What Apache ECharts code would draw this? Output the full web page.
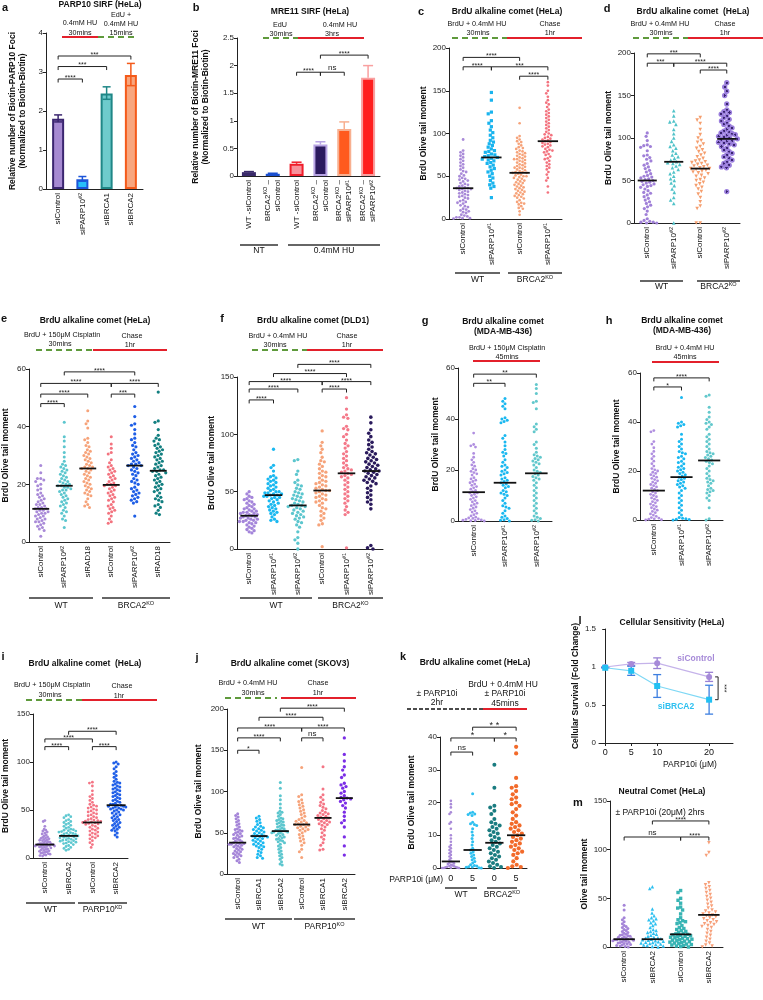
<!DOCTYPE html>
<html><head><meta charset="utf-8">
<script src="https://cdn.jsdelivr.net/npm/echarts@6/dist/echarts.min.js"></script>
<style>html,body{margin:0;padding:0;background:#fff}#c{width:763px;height:1000px}</style>
</head><body><div id="c"></div>
<script>
const FONT = '"Liberation Sans", Arial, Helvetica, sans-serif';

// ================= DATA =================
// Panel a (bar)
const aCategories = ['siControl', '{t|siPARP10}{s|#2}', 'siBRCA1', 'siBRCA2'];
const aValues = [1.8, 0.25, 2.45, 2.92];
const aErrLow = [1.72, 0.2, 2.3, 2.65];
const aErrHigh = [1.9, 0.32, 2.62, 3.22];
const aYAxis = [0, 4, 1];
const aBrackets = [[0,1,2.82,'****'],[0,2,3.14,'***'],[0,3,3.41,'***']];

// Panel b (bar)
const bCategories = ['WT -siControl', '{t|BRCA2}{s|KO}{t| –}\n{t|siControl}', 'WT -siControl', '{t|BRCA2}{s|KO}{t| –}\n{t|siControl}', '{t|BRCA2}{s|KO}{t| –}\n{t|siPARP10}{s|#1}', '{t|BRCA2}{s|KO}{t| –}\n{t|siPARP10}{s|#2}'];
const bValues = [0.07, 0.04, 0.22, 0.57, 0.85, 1.78];
const bErrHigh = [0.08, 0.05, 0.25, 0.62, 0.98, 2.0];
const bYAxis = [0, 2.5, 0.5];
const bBrackets = [[2,3,1.88,'****'],[3,4,1.88,'ns'],[3,5,2.19,'****']];

// Panel c
const cCategories = ['siControl','{t|siPARP10}{s|#1}','siControl','{t|siPARP10}{s|#1}'];
const cYAxis = [0, 200, 50];
const cWTsiControl = [93,80,78,76,74,72,70,68,66,64,62,60,58,56,55,53,51,50,48,47,46,45,44,42,41,40,39,38,37,36,36,35,35,34,33,32,31,30,29,28,27,26,25,24,22,21,20,19,18,16,15,14,12,11,10,9,8,7,5,4,3,2,2,1,1,0.5];
const cWTsiPARP10 = [148,139,125,123,115,112,108,104,101,98,95,92,90,88,86,84,82,80,79,78,76,75,74,73,72,71,70,69,68,66,65,63,61,59,57,55,53,50,48,45,42,40,38,36,25];
const cKOsiControl = [130,112,97,95,93,91,90,88,86,84,83,82,80,79,78,77,76,75,74,73,72,71,70,70,69,68,67,66,65,64,63,62,61,60,60,59,58,57,56,55,55,54,54,53,52,51,50,50,49,48,47,46,45,44,43,42,41,40,39,38,37,36,35,34,33,32,31,30,29,28,27,26,25,24,22,20,19,18,17,15,13,12,9,5];
const cKOsiPARP10 = [160,156,150,147,143,139,136,134,131,128,126,124,122,120,118,116,114,112,110,108,106,104,102,100,99,98,96,95,94,93,92,91,90,89,88,87,86,85,84,82,81,80,79,78,76,75,73,71,70,68,66,64,62,60,58,55,52,48,45,38,31];
const cMeans = [36, 72, 54, 91];
const cBrackets = [[0,2,189,'****'],[0,1,178,'****'],[1,3,178,'***'],[2,3,167,'****']];

// Panel d
const dCategories = ['siControl','{t|siPARP10}{s|#2}','siControl','{t|siPARP10}{s|#2}'];
const dYAxis = [0, 200, 50];
const dWTsiControl = [106,102,97,92,91,90,89,85,80,79,77,75,73,70,68,66,64,62,60,58,56,55,54,53,52,51,50,49,48,47,46,45,44,43,42,40,38,36,35,33,31,29,27,25,23,21,19,17,14,10,5,3,2,1,1,0,0];
const dWTsiPARP10 = [132,126,120,119,116,110,105,100,96,92,90,88,85,82,80,78,76,74,72,71,70,69,67,65,63,60,58,55,52,50,47,44,40,36,30,27,23,0];
const dKOsiControl = [124,121,117,110,104,100,97,95,93,90,88,86,84,82,80,78,76,74,73,72,71,70,69,68,67,66,65,64,64,63,62,61,60,59,58,56,55,53,51,50,48,46,44,42,40,37,34,30,25,20,17,0,0];
const dKOsiPARP10 = [165,160,155,150,140,133,131,130,128,126,124,122,120,118,116,114,112,110,108,107,106,105,104,103,102,101,100,99,98,97,96,95,94,93,92,90,88,86,84,82,80,78,76,74,72,70,68,66,65,37];
const dMeans = [50, 72, 64, 99];
const dBrackets = [[0,2,199,'***'],[0,1,188,'***'],[1,3,188,'****'],[2,3,180,'****']];

// Panel e
const eCategories = ['siControl','{t|siPARP10}{s|#2}','siRAD18','siControl','{t|siPARP10}{s|#2}','siRAD18'];
const eYAxis = [0, 60, 20];
const eWTsiControl = [26.5,24,22,22,21.5,21,20,19.5,18.5,18,17,16.5,16,15.5,15,14.5,14,13.5,13,13,12.5,12,12,11.5,11.5,11,11,10.5,10.5,10,10,9.5,9,9,8.5,8,8,7.5,7,7,6.5,6,5.5,5,4.5,4,2];
const eWTsiPARP10 = [41.5,36.5,35,33,31,29.5,28,27,26.5,26,25.5,25,24.5,24,23.5,23,22.5,22,21.5,21,21,20.5,20,20,19.5,19.5,19,19,18.5,18,18,17.5,17,16.5,16,15.5,15,14.5,14,13.5,13,12.5,12,11,10.5,10,9,8,7.5,5];
const eWTsiRAD18 = [45.5,42,41,39.5,36,35.5,34.5,33.5,33,32,31.5,31,30.5,30,29.5,29,28.5,28,27.5,27,26.5,26,26,25.5,25.5,25,24.5,24,23.5,23,22.5,22,21.5,21,20.5,20,19.5,19,18.5,18,17.5,17,16.5,16,15,14,13,12.5,12];
const eKOsiControl = [36.5,34,32.5,31,30.5,28.5,27.5,26.5,26,25.5,25,24.5,24,23.5,23,22.5,22,21.5,21,20.5,20,20,19.5,19.5,19,18.5,18,17.5,17,16.5,16,15.5,15,14.5,14,13,12.5,12,11.5,11,10.5,10,9,8,7,6.5];
const eKOsiPARP10 = [47,43.5,41,40.5,39,37.5,36,35.5,34.5,33.5,33,32,31,30.5,30,29.5,29,28.5,28,27.5,27,27,26.5,26.5,26,25.5,25,24.5,24,23.5,23,22,21.5,21,20.5,20,19,18.5,18,17.5,17,16.5,16,15.5,15,14.5,14,13.5,9];
const eKOsiRAD18 = [52,42,41.5,39,37,36,35.5,35,34,33.5,33,32.5,32,31.5,31,30.5,30,29.5,29,28.5,28,27.5,27,26.5,26,25.5,25,25,24.5,24.5,24,23.5,23,22.5,22,21.5,21,20.5,20,19.5,19,18.5,18,17.5,17,16,15.5,15,14.5,14,13,12.5,12,11,10,9.5];
const eMeans = [11.5, 19.5, 25.5, 19.8, 26.5, 24.7];
const eBrackets = [[1,4,59,'****'],[0,3,55,'****'],[3,5,55,'****'],[0,2,51.3,'****'],[3,4,51.3,'***'],[0,1,48,'****']];

// Panel f
const fCategories = ['siControl','{t|siPARP10}{s|#1}','{t|siPARP10}{s|#2}','siControl','{t|siPARP10}{s|#1}','{t|siPARP10}{s|#2}'];
const fYAxis = [0, 150, 50];
const fWTsiControl = [50,48,46,45,44,43,42,41,40,39,38,37,36,35,35,34,33,33,32,32,31,31,30,30,29,29,28,28,27,27,26,26,25,25,24,24,23,23,22,21,20,19,18,17,16,15,14];
const fWTsiPARP10a = [87,73,71,68,64,63,62,61,60,59,58,57,56,55,54,53,52,51,50,50,49,49,48,48,47,47,46,46,45,45,44,43,42,41,40,39,38,37,36,35,34,33,32,31,30,28,26,25,24];
const fWTsiPARP10b = [78,77,68,65,60,58,56,55,53,52,50,49,48,47,46,45,44,43,42,41,40,39,38,38,37,37,36,35,34,33,32,31,30,29,28,27,26,24,23,21,19,15,10,8,5,0];
const fKOsiControl = [103,93,90,87,84,80,77,76,74,72,70,68,67,66,64,63,62,60,59,58,57,56,55,54,53,52,51,51,50,49,48,47,46,45,44,43,42,41,40,38,36,35,33,31,29,27,25,22,21,2];
const fKOsiPARP10a = [132,122,117,115,114,107,105,104,100,98,95,92,90,88,85,83,81,79,77,75,73,71,70,69,68,67,66,65,64,63,62,60,58,56,54,52,50,48,46,44,42,40,37,34,32,30,1];
const fKOsiPARP10b = [115,110,104,101,98,95,93,91,89,87,85,84,83,82,80,79,78,77,76,75,74,73,72,71,70,69,68,68,67,66,65,64,63,62,61,60,59,58,57,55,53,51,49,47,45,43,41,39,35,3,1,0];
const fMeans = [29, 47, 38, 51, 66, 68];
const fBrackets = [[2,5,161,'****'],[1,4,153,'****'],[0,3,146,'****'],[3,5,146,'****'],[0,2,139.5,'****'],[3,4,139.5,'****'],[0,1,130,'****']];

// Panel g
const gCategories = ['siControl','{t|siPARP10}{s|#1}','{t|siPARP10}{s|#2}'];
const gYAxis = [0, 60, 20];
const gSiControl = [34.5,30,29.5,29,26.5,25,24,23,22,21.5,20.5,20,19.5,19,18.5,18,17,16.5,16,15.5,15,14.5,14,13.5,13,12.5,12,11.5,11,11,10.5,10,9.5,9,8.5,8,7.5,7,6.5,6,5.5,5,4.5,4,3.5,3,2.5,2,1.5,1.2,1,0.8,0.6,0.4,0.3,0.2,0.1,0];
const gSiPARP10a = [48,47,46,45,44,40.5,40,39.5,39,38.5,33.5,32.5,31,29.5,28,27,26.5,25.5,24,23,22,21.5,21,20,19.5,19,18.5,18,17,16.5,16,15.5,15,14.5,14,13.5,13,12,11.5,11,10.5,10,9,8,7,6,5.5,5,4,3,2,1.5,1,0.5,0.3,0];
const gSiPARP10b = [53.5,52,50,47,46.5,44,38,37,36,35,31,30,28.5,27,26,25.5,25,24.5,24,23.5,23,22.5,22,21,20,19.5,19,18.5,18,17.5,17,16.5,16,15,14,13,12,11,10,9,8,7,6,5,4,3,2,1.5,1,0.5,0.3,0];
const gMeans = [11.3, 15, 18.7];
const gBrackets = [[0,2,57.6,'**'],[0,1,54,'**']];

// Panel h
const hCategories = ['siControl','{t|siPARP10}{s|#1}','{t|siPARP10}{s|#2}'];
const hYAxis = [0, 60, 20];
const hSiControl = [36.5,36,32,31,29.5,28,27,26,25,24,23,22,21,20.5,20,19.5,19,18.5,18,17.5,17,16.5,16,15.5,15,14.5,14,13.5,13,12.5,12,11.5,11,10.5,10,9.5,9,8.5,8,7.5,7,6.5,6,5.5,5,4.5,4,3.5,3,2.5,2,1.5,1,0.8,0.5,0.3,0.1,0];
const hSiPARP10a = [50,40,39.5,39,38.5,38,35,33,32,31,30,29,28,27.5,27,26,25.5,25,24,23.5,23,22,21.5,21,20.5,20,19.5,19,18.5,18,17.5,17,16.5,16,15.5,15,14.5,14,13.5,13,12,11,10,9,8,7,6,5,4,3,2,1,0.7,0.5,0.3,0.2,0];
const hSiPARP10b = [51,50.5,46,44,42,41,40,39.5,39,38,37,35,34,33,32,31,30,29,28,27.5,27,26.5,26,25.5,25,24.5,24,23.5,23,22,21,20,19,18,17,16.5,16,15.5,15,14,13,12.5,12,11.5,11,10,9,8,5,0.5,0];
const hMeans = [12, 17.5, 24.3];
const hBrackets = [[0,2,58,'****'],[0,1,54.3,'*']];

// Panel i
const iCategories = ['siControl','siBRCA2','siControl','siBRCA2'];
const iYAxis = [0, 150, 50];
const iWTsiControl = [39,38,33,30,29,28,27,26,25,24,23,22,21.5,21,20.5,20,19.5,19,18.5,18,17.5,17,16.5,16,15.5,15,15,14.5,14.5,14,14,13.5,13.5,13,13,12.5,12.5,12,12,11.5,11,10.5,10,9.5,9,8.5,8,7.5,7,6.5,6,5.5,5,4.5,4,3.5,3,2.5,2];
const iWTsiBRCA2 = [45,44,43,42,40,39,38,37,36,35,34,33,32,31,30,29.5,29,28.5,28,27.5,27,26.5,26,25.5,25,24.5,24,23.5,23,23,22.5,22,21.5,21,20.5,20,19.5,19,18.5,18,17.5,17,16.5,16,15.5,15,14,13,12,11,10,9,8];
const iKDsiControl = [79,78,75,70,66,64,62,60,58,56,55,54,53,52,51,50,49,48,47,46,45,44,43,42,41,40,39.5,39,38.5,38,37.5,37,36.5,36,35.5,35,34,33,32,31,30,29,28,27,26,25,24,23,22,21,20,18,16,14,11];
const iKDsiBRCA2 = [100,99,98,95,93,90,88,86,84,82,80,79,78,77,76,75,74,73,72,71,70,69,68,67,66,65,64,63,62,61,60,59,58,57,56,56,55,55,54,54,53,53,52,52,51,51,50,50,49,48,47,46,45,44,43,42,41,40,39,38,37,36,35,34,33,32,31,30,29,28,26,24,22];
const iMeans = [14, 23, 37, 55];
const iBrackets = [[1,3,132,'****'],[0,2,124,'****'],[0,1,116,'****'],[2,3,116,'****']];

// Panel j
const jCategories = ['siControl','siBRCA1','siBRCA2','siControl','siBRCA1','siBRCA2'];
const jYAxis = [0, 200, 50];
const jWTsiControl = [73,71,69,67,65,63,61,59,57,55,54,53,52,51,50,49,48,47,46,45,44,43,42,41,40,39,38,38,37,37,36,36,35,35,34,33,32,31,30,29,28,27,26,25,24,23,22,21,20,18,16,14];
const jWTsiBRCA1 = [70,68,66,64,62,60,58,57,56,55,54,53,52,51,50,49,48,47,46,46,45,45,44,43,42,41,40,39,38,37,36,35,34,33,32,30,28,26,24,22,20,19];
const jWTsiBRCA2 = [111,104,95,90,85,80,76,75,74,72,70,68,67,66,65,64,63,62,61,60,59,58,57,56,55,54,53,53,52,52,51,51,50,50,49,48,47,46,45,44,43,42,41,40,39,38,36,34,32,30,28,26,24,22,20,18,15,12,11];
const jKOsiControl = [129,96,94,90,88,86,84,82,80,78,76,74,72,70,68,66,65,64,63,62,61,60,60,59,58,57,56,55,54,53,52,50,48,46,44,42,40,38,35,30,27,20];
const jKOsiBRCA1 = [130,103,96,93,90,87,85,83,81,79,77,75,74,73,72,71,70,69,68,67,66,65,64,63,62,61,60,59,57,55,53,50,47,45,42,38,35,30,29];
const jKOsiBRCA2 = [165,145,137,130,126,120,117,110,108,106,104,100,98,95,93,92,91,90,88,86,83,80,75,70,65,62,57,45,34,23];
const jMeans = [38, 46, 52, 60, 68, 92];
const jBrackets = [[2,5,201,'****'],[1,4,190,'****'],[0,3,177,'****'],[3,5,177,'****'],[0,2,165,'****'],[3,4,165,'ns'],[0,1,150,'*']];

// Panel k
const kCategories = ['0','5','0','5'];
const kYAxis = [0, 40, 10];
const kWT0 = [20.5,19.5,18.5,17,16.5,14,13.5,12,10,9,8,7,6.5,6,5.5,5,4.5,4,3.5,3,2.5,2,1.8,1.6,1.4,1.2,1,0.8,0.6,0.5,0.4,0.3,0.2,0.1,0.1,0,0,0];
const kWT5 = [22.7,17,16.8,16.5,16.3,16,14,13.5,13.3,13,12,11,10,9,8,7,6,5.5,5,4.5,4,3.5,3,2.5,2,1.5,1,0.8,0.6,0.4,0.3,0.2,0.1,0];
const kKO0 = [31.5,24.5,19,18.5,17.5,16.5,15,14,13.5,13,12.5,12,11.5,11,10.5,10,9.5,9,8.5,8,7.5,7,6.5,6,5.5,5,4.5,4,3.5,3,2.5,2,1.5,1,0.5,0.3,0];
const kKO5 = [37,35,27.5,25,24.5,23.5,22.5,21.5,21,20,19.5,19,18,17,16,15,14,13.5,13,12.5,12,11.5,11,10.5,10,9.5,9,8.5,8,7.5,7,6.5,6,5.5,5,4.5,4,3,2,1,0.5,0.3,0];
const kMeans = [2, 5.5, 7.7, 10];
const kBrackets = [[1,3,43,'* *'],[0,2,39.7,'*'],[2,3,39.7,'*'],[0,1,35.4,'ns']];

// Panel l
const lDoses = [0, 5, 10, 20];
const lControl = [1.0, 1.04, 1.05, 0.87];
const lControlErr = [0, 0.02, 0.07, 0.06];
const lBRCA2 = [0.99, 0.95, 0.75, 0.57];
const lBRCA2Err = [0, 0.06, 0.15, 0.19];
const lXTicks = [0, 5, 10, 20];
const lYAxis = [0, 1.5, 0.5];

// Panel m
const mCategories = ['siControl','siBRCA2','siControl','siBRCA2'];
const mYAxis = [0, 150, 50];
const mNTsiControl = [43,38,30,28,26,24,22,21,20,19,18,17,16,15,14,13,12.5,12,11.5,11,10.5,10,9.5,9,8.5,8,8,7.5,7.5,7,7,6.5,6,5.5,5,4.5,4,3.5,3,2.5,2,1.5,1,0.5,0];
const mNTsiBRCA2 = [62,60,39,35,32,30,29,28,27,25,24,22,20,18,17,16,15,14,13,12,11,10,9.5,9,8.5,8,7.5,7,6.5,6,5.5,5,4.5,4,3.5,3,2.5,2,1.5,1,0.5,0];
const mPisiControl = [58,56,50,48,45,41,40,38,34,30,28,27,26,25,24,22,20,19,18,17,16,15,14,13.5,13,12.5,12,11.5,11,10.5,10,9.5,9,8.5,8,7.5,7,6.5,6,5.5,5,4.5,4,3.5,3,2.5,2,1.5,1,0.5,0];
const mPisiBRCA2 = [107,97,94,66,64,62,60,58,56,54,52,50,48,46,44,42,40,38,37,36,35,34,33,32,31,30,29,28,27,26,25,24,23,22,21,20,18,16,14,12,10,8,6,4,2,1,0];
const mMeans = [8, 8, 13, 33];
const mBrackets = [[1,3,129.5,'****'],[0,2,113,'ns'],[2,3,113,'****']];

// ================= LAYOUT / STYLE =================
const L = {
  a:{left:46, top:33, width:97, height:156},
  b:{left:237, top:38, width:143, height:138},
  c:{left:449, top:48, width:113, height:171},
  d:{left:634, top:53, width:106, height:170},
  e:{left:27, top:369, width:143, height:173},
  f:{left:237, top:377, width:146, height:172},
  g:{left:458, top:368, width:94, height:153},
  h:{left:640, top:373, width:83, height:147},
  i:{left:31, top:714, width:97, height:144},
  j:{left:227, top:709, width:128, height:165},
  k:{left:440, top:737, width:87, height:131},
  l:{left:599, top:629, width:134, height:114},
  m:{left:610, top:801, width:113, height:146}
};
const INV = 'path://M0,0L10,0L5,9Z';
const PUR = '#a98ad8', BLU = '#1ab8f0', TEA = '#5cc6ce', ORA = '#f6a37a', PNK = '#f3737f';

const RICH = {
  t:{fontSize:8, color:'#111', fontFamily:FONT, lineHeight:10},
  s:{fontSize:5.5, color:'#111', fontFamily:FONT, verticalAlign:'top', lineHeight:10}
};

const option = {animation:false, backgroundColor:'#fff', textStyle:{fontFamily:FONT},
  grid:[], xAxis:[], yAxis:[], series:[], graphic:[]};

function addPanel(key, cats, yr, yName, nameGap, opt) {
  opt = opt || {};
  const g = L[key];
  const gi = option.grid.length;
  option.grid.push({left:g.left, top:g.top, width:g.width, height:g.height});
  option.xAxis.push({type:'category', gridIndex:gi, data:cats,
    axisLine:{lineStyle:{color:'#222', width:1}},
    axisTick:{alignWithLabel:true, length:3, lineStyle:{color:'#222'}},
    axisLabel:{rotate: opt.rot === undefined ? 90 : opt.rot, fontSize: opt.xfs || 8, color:'#111', margin: opt.xm || 4, interval:0, rich:RICH, fontFamily:FONT},
    splitLine:{show:false}});
  option.yAxis.push({type:'value', gridIndex:gi, min:yr[0], max:yr[1], interval:yr[2],
    name:yName, nameLocation:'middle', nameGap:nameGap, nameRotate:90,
    nameTextStyle:{fontSize:8.5, fontWeight:'bold', color:'#111', lineHeight:10, fontFamily:FONT},
    axisLine:{show:true, lineStyle:{color:'#222', width:1}},
    axisTick:{show:true, length:3, lineStyle:{color:'#222'}},
    axisLabel:{fontSize:8, color:'#222', margin:3, fontFamily:FONT},
    splitLine:{show:false}});
  return gi;
}

function swarm(vals, ppu, d, maxHalf) {
  const placed = [], offs = [];
  vals.forEach(v => {
    const y = v * ppu;
    const ivs = [];
    placed.forEach(p => {
      const dy = Math.abs(p[1] - y);
      if (dy < d) { const dx = Math.sqrt(d*d - dy*dy); ivs.push([p[0]-dx, p[0]+dx]); }
    });
    const cands = [0];
    ivs.forEach(iv => cands.push(iv[0], iv[1]));
    cands.sort((a, b) => Math.abs(a) - Math.abs(b));
    let x = 0;
    for (const c of cands) {
      if (ivs.every(iv => c <= iv[0] + 1e-6 || c >= iv[1] - 1e-6)) { x = c; break; }
    }
    placed.push([x, y]); offs.push(x);
  });
  let mx = 0; offs.forEach(o => { mx = Math.max(mx, Math.abs(o)); });
  const s = mx > maxHalf ? maxHalf / mx : 1;
  return offs.map(o => o * s);
}

function addDots(gi, key, yr, groups, styles) {
  const g = L[key];
  const ppu = g.height / (yr[1] - yr[0]);
  const band = g.width / groups.length;
  groups.forEach((vals, k) => {
    const st = styles[k];
    const offs = swarm(vals, ppu, st[2] * 1.12, band * 0.4);
    option.series.push({type:'scatter', xAxisIndex:gi, yAxisIndex:gi, symbol:st[0], symbolSize:st[2],
      itemStyle:{color:st[1], opacity:1}, silent:true, z:2,
      data: vals.map((v, n) => ({value:[k, v], symbolOffset:[offs[n], 0]}))});
  });
}

function addMeans(gi, means, frac) {
  option.series.push({type:'custom', xAxisIndex:gi, yAxisIndex:gi, z:5, silent:true,
    data: means.map((m, k) => [k, m]),
    renderItem: (params, api) => {
      const c = api.coord([api.value(0), api.value(1)]);
      const w = api.size([1, 0])[0] * frac;
      return {type:'line', shape:{x1:c[0]-w, y1:c[1], x2:c[0]+w, y2:c[1]}, style:{stroke:'#111', lineWidth:1.8}};
    }});
}

function addBrackets(gi, brs, fs) {
  option.series.push({type:'custom', xAxisIndex:gi, yAxisIndex:gi, z:6, silent:true, clip:false,
    data: brs.map(b => [b[0], b[2]]),
    renderItem: (params, api) => {
      const b = brs[params.dataIndex];
      const p1 = api.coord([b[0], b[2]]), p2 = api.coord([b[1], b[2]]);
      const t = 3.5;
      return {type:'group', children:[
        {type:'polyline', shape:{points:[[p1[0], p1[1]+t],[p1[0], p1[1]],[p2[0], p2[1]],[p2[0], p2[1]+t]]},
         style:{stroke:'#222', lineWidth:1, fill:null}},
        {type:'text', x:(p1[0]+p2[0])/2, y:p1[1] + (b[3]==='ns' ? -0.5 : 2.5),
         style:{text:b[3], fontSize: b[3]==='ns' ? 8 : fs, fill:'#222', align:'center', verticalAlign:'bottom', fontFamily:FONT}}
      ]};
    }});
}

// ---------- graphic helpers ----------
function gText(x, y, text, fs, opt) {
  opt = opt || {};
  option.graphic.push({type:'text', x:x, y:y, silent:true, rotation: opt.rot || 0,
    style:{text:text, fontSize:fs, fontWeight: opt.bold ? 'bold' : 'normal', fill: opt.color || '#111',
      align: opt.align || 'center', verticalAlign:'middle', fontFamily:FONT,
      rich: {t:{fontSize:fs, fill: opt.color || '#111', fontFamily:FONT, lineHeight:fs+2},
             s:{fontSize:fs*0.65, fill: opt.color || '#111', fontFamily:FONT, verticalAlign:'top', lineHeight:fs+2}}}});
}
function gLine(x1, y1, x2, y2, color, w, dash) {
  option.graphic.push({type:'line', silent:true, shape:{x1:x1, y1:y1, x2:x2, y2:y2},
    style:{stroke:color, lineWidth:w, lineDash: dash || null}});
}
const GREEN = '#5f9a3c', RED = '#e3202b';
function timeline(items) {
  items.forEach(it => gText(it[0], it[1], it[2], it[3] || 7.2));
}

// ================= PANEL a =================
{
  const gi = addPanel('a', aCategories, aYAxis, 'Relative number of Biotin-PARP10 Foci\n(Normalized to Biotin-Biotin)', 18);
  const fill = ['#a68ad2', '#28c0fa', '#6ecbcc', '#f8a67e'];
  const stroke = ['#3b2670', '#1d55d8', '#1f8787', '#f45a1a'];
  option.series.push({type:'bar', xAxisIndex:gi, yAxisIndex:gi, barWidth:12, silent:true,
    data: aValues.map((v, k) => ({value:v, itemStyle:{color:fill[k], borderColor:stroke[k], borderWidth:2}}))});
  option.series.push({type:'custom', xAxisIndex:gi, yAxisIndex:gi, z:4, silent:true,
    data: aValues.map((v, k) => [k, aErrLow[k], aErrHigh[k]]),
    renderItem: (params, api) => {
      const k = api.value(0);
      const hi = api.coord([k, api.value(2)]), lo = api.coord([k, api.value(1)]);
      const st = {stroke:stroke[k], lineWidth:1.5};
      return {type:'group', children:[
        {type:'line', shape:{x1:hi[0], y1:hi[1], x2:lo[0], y2:lo[1]}, style:st},
        {type:'line', shape:{x1:hi[0]-4, y1:hi[1], x2:hi[0]+4, y2:hi[1]}, style:st},
        {type:'line', shape:{x1:lo[0]-4, y1:lo[1], x2:lo[0]+4, y2:lo[1]}, style:st}]};
    }});
  addBrackets(gi, aBrackets, 7);
}
// ================= PANEL b =================
{
  const gi = addPanel('b', bCategories, bYAxis, 'Relative number of Biotin-MRE11 Foci\n(Normalized to Biotin-Biotin)', 26);
  const fill = ['#9c86cc', '#2f6fe8', '#f7909a', '#2b1a5e', '#ff5a1e', '#ff1e1e'];
  const stroke = ['#3a2a6a', '#1a4fd0', '#f01c2a', '#b8a4e4', '#f8b090', '#f9a0a0'];
  option.series.push({type:'bar', xAxisIndex:gi, yAxisIndex:gi, barWidth:14, silent:true,
    data: bValues.map((v, k) => ({value:v, itemStyle:{color:fill[k], borderColor:stroke[k], borderWidth:2}}))});
  option.series.push({type:'custom', xAxisIndex:gi, yAxisIndex:gi, z:4, silent:true,
    data: bValues.map((v, k) => [k, v, bErrHigh[k]]),
    renderItem: (params, api) => {
      const k = api.value(0);
      const hi = api.coord([k, api.value(2)]), lo = api.coord([k, api.value(1)]);
      const st = {stroke:stroke[k], lineWidth:1.5};
      return {type:'group', children:[
        {type:'line', shape:{x1:hi[0], y1:hi[1], x2:lo[0], y2:lo[1]}, style:st},
        {type:'line', shape:{x1:hi[0]-5, y1:hi[1], x2:hi[0]+5, y2:hi[1]}, style:st}]};
    }});
  addBrackets(gi, bBrackets, 7);
}
// ================= PANEL c =================
{
  const gi = addPanel('c', cCategories, cYAxis, 'BrdU Olive tail moment', 20);
  addDots(gi, 'c', cYAxis, [cWTsiControl, cWTsiPARP10, cKOsiControl, cKOsiPARP10],
    [['circle', PUR, 2.8], ['rect', '#1ab4ee', 3.2], ['circle', ORA, 2.7], ['circle', PNK, 2.7]]);
  addMeans(gi, cMeans, 0.36);
  addBrackets(gi, cBrackets, 7);
}
// ================= PANEL d =================
{
  const gi = addPanel('d', dCategories, dYAxis, 'BrdU Olive tail moment', 20);
  const radial = {type:'radial', x:0.5, y:0.5, r:0.5, colorStops:[{offset:0, color:'#3a2470'},{offset:0.38, color:'#3a2470'},{offset:0.45, color:'#9a7edc'},{offset:1, color:'#9a7edc'}]};
  addDots(gi, 'd', dYAxis, [dWTsiControl, dWTsiPARP10, dKOsiControl, dKOsiPARP10],
    [['circle', '#a080d8', 3.2], ['triangle', '#4fc2c8', 3.6], [INV, '#f59e6e', 3.6], ['circle', radial, 5.3]]);
  addMeans(gi, dMeans, 0.36);
  addBrackets(gi, dBrackets, 7);
}
// ================= PANEL e =================
{
  const gi = addPanel('e', eCategories, eYAxis, 'BrdU Olive tail moment', 18);
  addDots(gi, 'e', eYAxis, [eWTsiControl, eWTsiPARP10, eWTsiRAD18, eKOsiControl, eKOsiPARP10, eKOsiRAD18],
    [['circle', PUR, 3], ['circle', TEA, 3], ['circle', ORA, 3], ['circle', PNK, 3], ['circle', '#1e5ee6', 3.2], ['circle', '#127f80', 3.2]]);
  addMeans(gi, eMeans, 0.36);
  addBrackets(gi, eBrackets, 7);
}
// ================= PANEL f =================
{
  const gi = addPanel('f', fCategories, fYAxis, 'BrdU Olive tail moment', 17);
  addDots(gi, 'f', fYAxis, [fWTsiControl, fWTsiPARP10a, fWTsiPARP10b, fKOsiControl, fKOsiPARP10a, fKOsiPARP10b],
    [['circle', '#a485da', 3.3], ['circle', BLU, 3.3], ['circle', TEA, 3.3], ['circle', ORA, 3.3], ['circle', '#f4798a', 3.3], ['circle', '#2a1a5c', 3.6]]);
  addMeans(gi, fMeans, 0.36);
  addBrackets(gi, fBrackets, 7);
}
// ================= PANEL g =================
{
  const gi = addPanel('g', gCategories, gYAxis, 'BrdU Olive tail moment', 17);
  addDots(gi, 'g', gYAxis, [gSiControl, gSiPARP10a, gSiPARP10b],
    [['circle', '#b08fe0', 2.8], ['circle', BLU, 3], ['circle', '#62c8cc', 3]]);
  addMeans(gi, gMeans, 0.36);
  addBrackets(gi, gBrackets, 7);
}
// ================= PANEL h =================
{
  const gi = addPanel('h', hCategories, hYAxis, 'BrdU Olive tail moment', 18);
  addDots(gi, 'h', hYAxis, [hSiControl, hSiPARP10a, hSiPARP10b],
    [['circle', '#b08fe0', 2.8], ['circle', BLU, 3], ['circle', '#62c8cc', 3]]);
  addMeans(gi, hMeans, 0.4);
  addBrackets(gi, hBrackets, 7);
}
// ================= PANEL i =================
{
  const gi = addPanel('i', iCategories, iYAxis, 'BrdU Olive tail moment', 22);
  addDots(gi, 'i', iYAxis, [iWTsiControl, iWTsiBRCA2, iKDsiControl, iKDsiBRCA2],
    [['circle', PUR, 2.8], ['circle', '#5ec8d0', 2.8], ['circle', '#f47585', 2.8], ['circle', '#1f5fe8', 3]]);
  addMeans(gi, iMeans, 0.4);
  addBrackets(gi, iBrackets, 7);
}
// ================= PANEL j =================
{
  const gi = addPanel('j', jCategories, jYAxis, 'BrdU Olive tail moment', 23);
  addDots(gi, 'j', jYAxis, [jWTsiControl, jWTsiBRCA1, jWTsiBRCA2, jKOsiControl, jKOsiBRCA1, jKOsiBRCA2],
    [['circle', '#a585d8', 3], ['circle', BLU, 3], ['circle', TEA, 3], ['circle', ORA, 3], ['circle', '#f47585', 3], ['circle', '#7b2ee6', 3.3]]);
  addMeans(gi, jMeans, 0.4);
  addBrackets(gi, jBrackets, 7);
}
// ================= PANEL k =================
{
  const gi = addPanel('k', kCategories, kYAxis, 'BrdU Olive tail moment', 23, {rot:0, xfs:9, xm:6});
  addDots(gi, 'k', kYAxis, [kWT0, kWT5, kKO0, kKO5],
    [['circle', PUR, 2.6], ['circle', '#2ec0f0', 3], ['circle', '#1a7c80', 4], ['circle', '#f26a2a', 4.2]]);
  addMeans(gi, kMeans, 0.42);
  addBrackets(gi, kBrackets, 9);
}
// ================= PANEL l =================
{
  const g = L.l;
  const gi = option.grid.length;
  option.grid.push({left:g.left, top:g.top, width:g.width, height:g.height});
  option.xAxis.push({type:'value', gridIndex:gi, min:-1.2, max:24.6,
    axisLine:{lineStyle:{color:'#222'}}, axisTick:{length:3, customValues:lXTicks, lineStyle:{color:'#222'}},
    axisLabel:{fontSize:9, color:'#111', margin:5, customValues:lXTicks, fontFamily:FONT}, splitLine:{show:false}});
  option.yAxis.push({type:'value', gridIndex:gi, min:lYAxis[0], max:lYAxis[1], interval:lYAxis[2],
    name:'Cellular Survival (Fold Change)', nameLocation:'middle', nameGap:19, nameRotate:90,
    nameTextStyle:{fontSize:8.5, fontWeight:'bold', color:'#111', fontFamily:FONT},
    axisLine:{show:true, lineStyle:{color:'#222'}}, axisTick:{show:true, length:3, lineStyle:{color:'#222'}},
    axisLabel:{fontSize:8, color:'#222', margin:3, fontFamily:FONT}, splitLine:{show:false}});
  const errSeries = (vals, errs, color) => ({type:'custom', xAxisIndex:gi, yAxisIndex:gi, z:3, silent:true,
    data: lDoses.map((x, k) => [x, vals[k] - errs[k], vals[k] + errs[k]]),
    renderItem: (params, api) => {
      const hi = api.coord([api.value(0), api.value(2)]), lo = api.coord([api.value(0), api.value(1)]);
      const st = {stroke:color, lineWidth:1.3};
      return {type:'group', children:[
        {type:'line', shape:{x1:hi[0], y1:hi[1], x2:lo[0], y2:lo[1]}, style:st},
        {type:'line', shape:{x1:hi[0]-4, y1:hi[1], x2:hi[0]+4, y2:hi[1]}, style:st},
        {type:'line', shape:{x1:lo[0]-4, y1:lo[1], x2:lo[0]+4, y2:lo[1]}, style:st}]};
    }});
  option.series.push(errSeries(lControl, lControlErr, '#9a80d4'));
  option.series.push(errSeries(lBRCA2, lBRCA2Err, '#3d7fe0'));
  option.series.push({type:'line', xAxisIndex:gi, yAxisIndex:gi, z:4, silent:true, symbol:'circle', symbolSize:6,
    lineStyle:{color:'#c5b3ea', width:1.2}, itemStyle:{color:'#a68ad8'},
    data: lDoses.map((x, k) => [x, lControl[k]])});
  option.series.push({type:'line', xAxisIndex:gi, yAxisIndex:gi, z:4, silent:true, symbol:'rect', symbolSize:6,
    lineStyle:{color:'#7fd8f5', width:1.2}, itemStyle:{color:'#22c0f2'},
    data: lDoses.map((x, k) => [x, lBRCA2[k]])});
  option.series.push({type:'custom', xAxisIndex:gi, yAxisIndex:gi, z:6, silent:true, clip:false,
    data: [[20, lControl[3], lBRCA2[3]]],
    renderItem: (params, api) => {
      const p1 = api.coord([api.value(0), api.value(1)]), p2 = api.coord([api.value(0), api.value(2)]);
      const x = p1[0] + 9;
      return {type:'group', children:[
        {type:'polyline', shape:{points:[[x-3, p1[1]],[x, p1[1]],[x, p2[1]],[x-3, p2[1]]]}, style:{stroke:'#222', lineWidth:1, fill:null}},
        {type:'text', x:x+6, y:(p1[1]+p2[1])/2, rotation:-Math.PI/2, style:{text:'***', fontSize:7, fill:'#222', align:'center', verticalAlign:'middle', fontFamily:FONT}}]};
    }});
  gText(696, 659, 'siControl', 8.5, {bold:true, color:'#a68ad8'});
  gText(676, 707, 'siBRCA2', 8.5, {bold:true, color:'#2ec0f0'});
  gText(690, 765, 'PARP10i (μM)', 8.5);
}
// ================= PANEL m =================
{
  const gi = addPanel('m', mCategories, mYAxis, 'Olive tail moment', 20);
  addDots(gi, 'm', mYAxis, [mNTsiControl, mNTsiBRCA2, mPisiControl, mPisiBRCA2],
    [['circle', '#a585d8', 3], ['triangle', '#2ec0f0', 3.5], ['rect', '#38b4b4', 3.4], [INV, '#f7a07a', 3.5]]);
  addMeans(gi, mMeans, 0.38);
  addBrackets(gi, mBrackets, 7);
}

// ================= TEXT / DECORATION =================
// panel letters
[['a',5,8],['b',196,8],['c',421,12],['d',607,9],['e',4,319],['f',222,319],['g',425,321],['h',609,321],['i',3,657],['j',197,658],['k',403,657],['l',580,621],['m',578,803]]
  .forEach(p => gText(p[1], p[2], p[0], 11, {bold:true}));
// titles
[[100,4.5,'PARP10 SIRF (HeLa)'],[310,12,'MRE11 SIRF (HeLa)'],[507,12,'BrdU alkaline comet (HeLa)'],[693,12,'BrdU alkaline comet  (HeLa)'],
 [95,321,'BrdU alkaline comet (HeLa)'],[313,321,'BrdU alkaline comet (DLD1)'],[503,322,'BrdU alkaline comet'],[503,332,'(MDA-MB-436)'],
 [682,321,'BrdU alkaline comet'],[682,331,'(MDA-MB-436)'],[85,664,'BrdU alkaline comet  (HeLa)'],[290,664,'BrdU alkaline comet (SKOV3)'],
 [475,663,'BrdU alkaline comet (HeLa)'],[672,623,'Cellular Sensitivity (HeLa)'],[662,792,'Neutral Comet (HeLa)']]
  .forEach(t => gText(t[0], t[1], t[2], 8.5, {bold:true}));

// timelines
timeline([[80,23,'0.4mM HU'],[80,33,'30mins'],[121,15,'EdU +'],[121,24,'0.4mM HU'],[121,33,'15mins']]);
gLine(62,37,98,37,RED,2); gLine(98,37,137,37,GREEN,2,[6,4]);
timeline([[280,25,'EdU'],[281,34,'30mins'],[340,25,'0.4mM HU'],[332,34,'3hrs']]);
gLine(263,38,298,38,GREEN,2,[6,4]); gLine(298,38,364,38,RED,2);
timeline([[477,24,'BrdU + 0.4mM HU'],[478,33,'30mins'],[550,24,'Chase'],[550,33,'1hr']]);
gLine(452,38,507,38,GREEN,2,[6,4]); gLine(507,38,582,38,RED,2);
timeline([[660,24,'BrdU + 0.4mM HU'],[661,33,'30mins'],[725,24,'Chase'],[725,33,'1hr']]);
gLine(633,38,688,38,GREEN,2,[6,4]); gLine(688,38,763,38,RED,2);
timeline([[62,335,'BrdU + 150μM Cisplatin'],[60,344,'30mins'],[132,336,'Chase'],[130,345,'1hr']]);
gLine(36,350,93,350,GREEN,2,[6,4]); gLine(93,350,167,350,RED,2);
timeline([[278,336,'BrdU + 0.4mM HU'],[275,345,'30mins'],[347,336,'Chase'],[347,345,'1hr']]);
gLine(252,350,307,350,GREEN,2,[6,4]); gLine(307,350,383,350,RED,2);
timeline([[507,348,'BrdU + 150μM Cisplatin'],[507,357,'45mins']]);
gLine(473,361,540,361,RED,2);
timeline([[685,348,'BrdU + 0.4mM HU'],[685,357,'45mins']]);
gLine(652,362,719,362,RED,2);
timeline([[52,685,'BrdU + 150μM Cisplatin'],[50,695,'30mins'],[122,686,'Chase'],[119,696,'1hr']]);
gLine(26,700,82,700,GREEN,2,[6,4]); gLine(82,700,157,700,RED,2);
timeline([[248,683,'BrdU + 0.4mM HU'],[253,693,'30mins'],[318,683,'Chase'],[318,693,'1hr']]);
gLine(225,698,277,698,GREEN,2,[6,4]); gLine(281,698,356,698,RED,2);
timeline([[437,694,'± PARP10i',8.5],[437,703,'2hr',8.5],[503,685,'BrdU + 0.4mM HU',8.5],[505,694,'± PARP10i',8.5],[505,704,'45mins',8.5]]);
gLine(407,709,483,709,'#111',1.5,[4,2]); gLine(483,709,527,709,RED,2);
gText(660, 813, '± PARP10i (20μM) 2hrs', 8.5);
gText(443, 880, 'PARP10i (μM)', 8.5, {align:'right'});

// group labels
function grp(x1, x2, yl, text, yt, fs) {
  gLine(x1, yl, x2, yl, '#333', 1.5);
  gText((x1+x2)/2, yt, text, fs || 8.5);
}
grp(240,278,245,'NT',251); grp(288,380,245,'0.4mM HU',251);
grp(455,500,273,'WT',280); grp(508,562,273,'{t|BRCA2}{s|KO}',280);
grp(640,683,281,'WT',287); grp(697,740,281,'{t|BRCA2}{s|KO}',287);
grp(29,93,598,'WT',606); grp(102,170,598,'{t|BRCA2}{s|KO}',606);
grp(240,312,598,'WT',606); grp(318,383,598,'{t|BRCA2}{s|KO}',606);
grp(26,75,903,'WT',910); grp(78,127,903,'{t|PARP10}{s|KD}',910);
grp(225,292,919,'WT',927); grp(294,355,919,'{t|PARP10}{s|KO}',927);
grp(445,477,888,'WT',895); grp(487,517,888,'{t|BRCA2}{s|KO}',895);

const chart = echarts.init(document.getElementById('c'), null, {renderer:'canvas', width:763, height:1000});
chart.setOption(option);
</script></body></html>
